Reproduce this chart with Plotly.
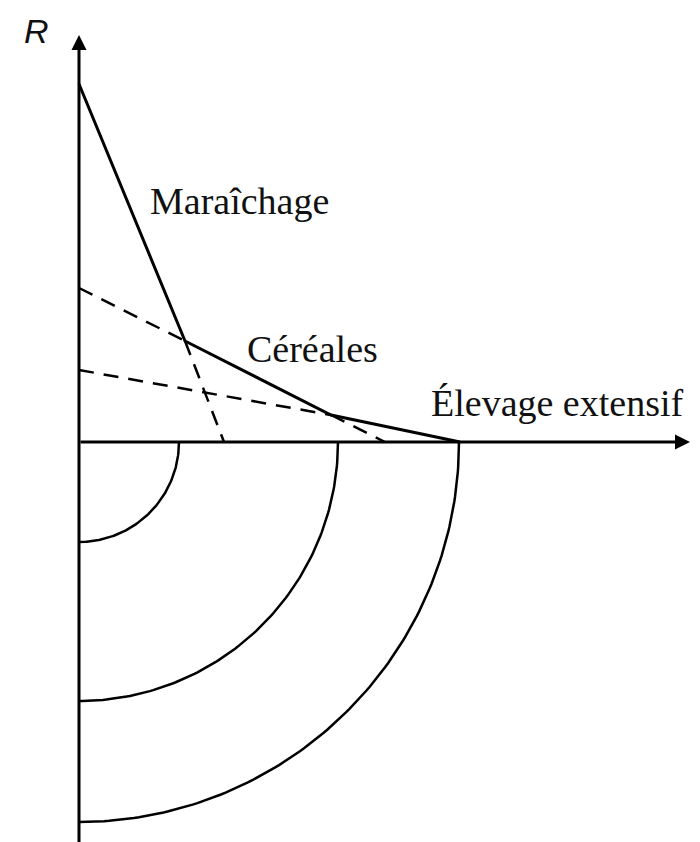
import numpy as np
import plotly.graph_objects as go

# ---- data (distance r from market, land rent R), arbitrary units ----
crop_labels = ["Maraîchage", "Céréales", "Élevage extensif"]

# solid bid-rent envelope
envelope_r = [0.0, 1.06, 2.52, 3.81]
envelope_R = [3.58, 1.01, 0.27, 0.0]

# dashed continuations of each crop's rent line
maraichage_dash_r = [1.06, 1.45]
maraichage_dash_R = [1.01, 0.0]
cereales_left_r = [0.0, 1.06]
cereales_left_R = [1.54, 1.01]
cereales_right_r = [2.52, 3.06]
cereales_right_R = [0.27, 0.0]
elevage_left_r = [0.0, 2.52]
elevage_left_R = [0.72, 0.27]

# ring (zone) radii projected below the axis
ring_radii = [1.0, 2.59, 3.80]

# axis extents
r_axis_end = 6.11
R_axis_top = 4.07
R_axis_bottom = -4.3

fig = go.Figure()

dash_style = dict(color="black", width=2.5, dash="15px,10px")
for rr, RR in [(maraichage_dash_r, maraichage_dash_R),
               (cereales_left_r, cereales_left_R),
               (cereales_right_r, cereales_right_R),
               (elevage_left_r, elevage_left_R)]:
    fig.add_trace(go.Scatter(x=rr, y=RR, mode="lines", line=dash_style,
                             hoverinfo="skip", showlegend=False))

fig.add_trace(go.Scatter(x=envelope_r, y=envelope_R, mode="lines",
                         line=dict(color="black", width=3),
                         hoverinfo="skip", showlegend=False))

theta = np.linspace(0, np.pi / 2, 120)
for rad in ring_radii:
    fig.add_trace(go.Scatter(x=rad * np.cos(theta), y=-rad * np.sin(theta),
                             mode="lines", line=dict(color="black", width=2.5),
                             hoverinfo="skip", showlegend=False))

annotations = [
    # axes with arrows
    dict(x=0, y=R_axis_top, ax=0, ay=R_axis_bottom, xref="x", yref="y",
         axref="x", ayref="y", text="", showarrow=True, arrowhead=2,
         arrowwidth=3, arrowsize=1, arrowcolor="black"),
    dict(x=r_axis_end, y=0, ax=0, ay=0, xref="x", yref="y",
         axref="x", ayref="y", text="", showarrow=True, arrowhead=2,
         arrowwidth=3, arrowsize=1, arrowcolor="black"),
    # axis labels
    dict(x=-0.43, y=4.11, xref="x", yref="y", text="<i>R</i>", showarrow=False,
         font=dict(family="Liberation Sans", size=34, color="#111"),
         xanchor="center", yanchor="middle"),
    dict(x=6.18, y=-0.27, xref="x", yref="y", text="<i>r</i>", showarrow=False,
         font=dict(family="Liberation Sans", size=34, color="#111"),
         xanchor="left", yanchor="middle"),
    # crop labels
    dict(x=1.605, y=2.41, xref="x", yref="y", text=crop_labels[0], showarrow=False,
         font=dict(family="Liberation Serif", size=38, color="#111"),
         xanchor="center", yanchor="middle"),
    dict(x=2.33, y=0.93, xref="x", yref="y", text=crop_labels[1], showarrow=False,
         font=dict(family="Liberation Serif", size=38, color="#111"),
         xanchor="center", yanchor="middle"),
    dict(x=3.50, y=0.39, xref="x", yref="y", text=crop_labels[2], showarrow=False,
         font=dict(family="Liberation Serif", size=38, color="#111"),
         xanchor="left", yanchor="middle"),
]

fig.update_layout(
    width=700, height=842,
    margin=dict(l=0, r=0, t=0, b=0),
    paper_bgcolor="white", plot_bgcolor="white",
    xaxis=dict(range=[-0.71, 6.29], visible=False, fixedrange=True),
    yaxis=dict(range=[-4.08, 4.34], visible=False, fixedrange=True),
    annotations=annotations,
    showlegend=False,
)

fig.write_html("out.html")
